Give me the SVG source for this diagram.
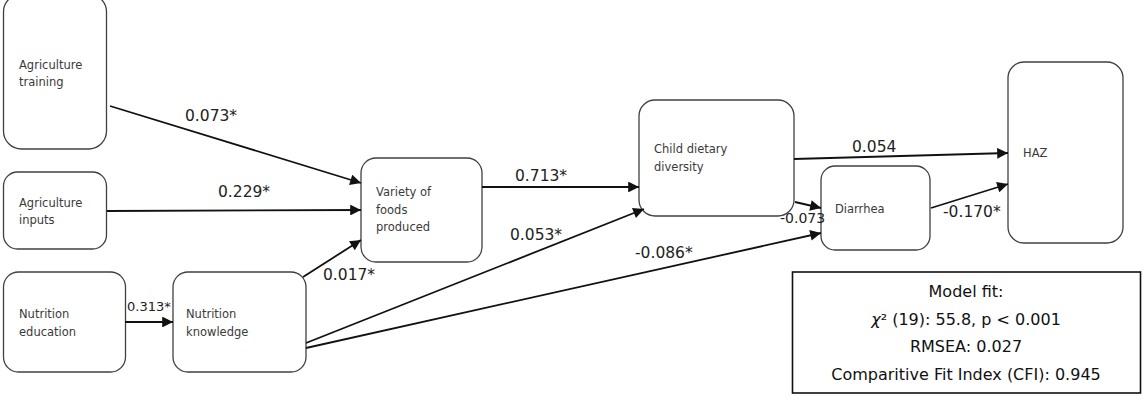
<svg xmlns="http://www.w3.org/2000/svg" width="1144" height="403" viewBox="0 0 1144 403">
<style>
.node{fill:#fff;stroke:#404040;stroke-width:1.3}
.nl{font-family:"DejaVu Sans",sans-serif;font-size:11.5px;fill:#3a3a3a}
.el{font-family:"DejaVu Sans",sans-serif;font-size:15.5px;fill:#222}
.edge{stroke:#111;stroke-width:1.8;fill:none;marker-end:url(#ah)}
.fit{font-family:"DejaVu Sans",sans-serif;font-size:16px;fill:#111;text-anchor:middle}
</style>
<defs>
<marker id="ah" viewBox="0 0 10 10" refX="10" refY="5" markerWidth="6.5" markerHeight="6" markerUnits="strokeWidth" orient="auto">
<path d="M0,0 L10,5 L0,10 Z" fill="#111"/>
</marker>
</defs>
<rect width="1144" height="403" fill="#fff"/>
<g id="n-agri-training"><rect class="node" x="3.5" y="-6" width="103" height="155" rx="18"/><text class="nl" x="19" y="69">Agriculture</text><text class="nl" x="19" y="86">training</text></g>
<g id="n-agri-inputs"><rect class="node" x="3.5" y="172" width="103" height="77" rx="14"/><text class="nl" x="19" y="207">Agriculture</text><text class="nl" x="19" y="224">inputs</text></g>
<g id="n-nutr-edu"><rect class="node" x="3.5" y="272" width="122" height="100" rx="15"/><text class="nl" x="19" y="318">Nutrition</text><text class="nl" x="19" y="336">education</text></g>
<g id="n-nutr-know"><rect class="node" x="173" y="272" width="133" height="100" rx="15"/><text class="nl" x="186" y="318">Nutrition</text><text class="nl" x="186" y="336">knowledge</text></g>
<g id="n-variety"><rect class="node" x="361" y="158" width="121" height="104" rx="15"/><text class="nl" x="376" y="196">Variety of</text><text class="nl" x="376" y="213.5">foods</text><text class="nl" x="376" y="231">produced</text></g>
<g id="n-child"><rect class="node" x="639" y="100" width="155" height="116" rx="16"/><text class="nl" x="654" y="153">Child dietary</text><text class="nl" x="654" y="171">diversity</text></g>
<g id="n-diarrhea"><rect class="node" x="821" y="166" width="109" height="84" rx="14"/><text class="nl" x="835" y="213">Diarrhea</text></g>
<g id="n-haz"><rect class="node" x="1008" y="62" width="115" height="181" rx="16"/><text class="nl" x="1023" y="157">HAZ</text></g>
<g id="connectors">
<line class="edge" x1="110" y1="106" x2="361" y2="183"/>
<line class="edge" x1="107" y1="211" x2="361" y2="210"/>
<line class="edge" x1="125" y1="322" x2="173" y2="322"/>
<line class="edge" x1="303" y1="277" x2="361" y2="240"/>
<line class="edge" x1="306" y1="343" x2="644" y2="209"/>
<line class="edge" x1="306" y1="348" x2="821" y2="233"/>
<line class="edge" x1="482" y1="187" x2="639" y2="187"/>
<line class="edge" x1="794" y1="159" x2="1008" y2="153"/>
<line class="edge" x1="795" y1="202" x2="821" y2="208"/>
<line class="edge" x1="931" y1="208" x2="1008" y2="184"/>
</g>
<g id="edge-labels">
<text class="el" x="185" y="121">0.073*</text>
<text class="el" x="218" y="197">0.229*</text>
<text class="el" x="127" y="311" style="font-size:13px">0.313*</text>
<text class="el" x="323" y="280">0.017*</text>
<text class="el" x="515" y="181">0.713*</text>
<text class="el" x="510" y="240">0.053*</text>
<text class="el" x="635" y="258">-0.086*</text>
<text class="el" x="852" y="152">0.054</text>
<text class="el" x="780" y="223" style="font-size:14px">-0.073</text>
<text class="el" x="943" y="217">-0.170*</text>
</g>
<g id="model-fit">
<rect x="792.5" y="272" width="348" height="121" fill="#fff" stroke="#111" stroke-width="1.6"/>
<text class="fit" x="966" y="297">Model fit:</text>
<text class="fit" x="966" y="325"><tspan font-style="italic">χ</tspan>² (19): 55.8, p &lt; 0.001</text>
<text class="fit" x="966" y="352">RMSEA: 0.027</text>
<text class="fit" x="966" y="380">Comparitive Fit Index (CFI): 0.945</text>
</g>
</svg>
